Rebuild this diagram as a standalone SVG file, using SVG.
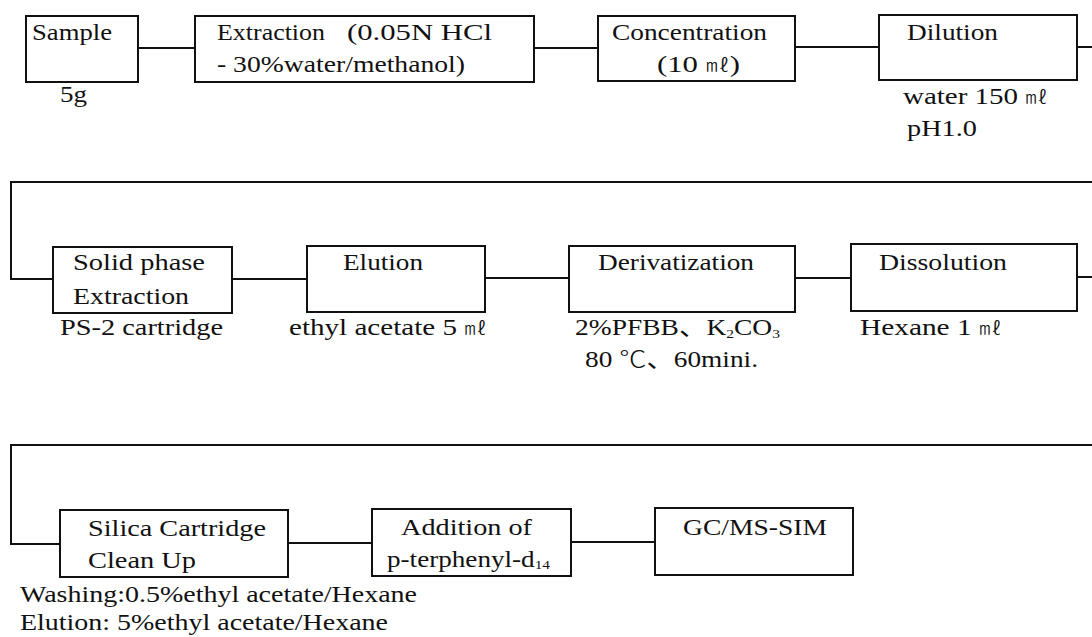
<svg xmlns="http://www.w3.org/2000/svg" width="1092" height="637" viewBox="0 0 1092 637">
<style>
.box{fill:#fff;stroke:#111;stroke-width:2}
.ln{fill:none;stroke:#111;stroke-width:2}
text{font-family:"Liberation Serif","Noto Sans CJK JP",serif;font-size:23px;fill:#111}
.sub{font-size:13px}
.ml{font-size:18px;font-weight:300}
.deg{font-weight:300}
</style>
<rect width="1092" height="637" fill="#fff"/>
<g id="connectors">
<line class="ln" x1="138" y1="48" x2="195" y2="48"/>
<line class="ln" x1="534" y1="48" x2="598" y2="48"/>
<line class="ln" x1="795" y1="47" x2="879" y2="47"/>
<line class="ln" x1="1077" y1="47" x2="1092" y2="47"/>
<path class="ln" d="M1092,182 H11 V279 H53"/>
<line class="ln" x1="232" y1="279" x2="307" y2="279"/>
<line class="ln" x1="485" y1="278" x2="569" y2="278"/>
<line class="ln" x1="795" y1="278" x2="851" y2="278"/>
<line class="ln" x1="1077" y1="277" x2="1092" y2="277"/>
<path class="ln" d="M1092,445 H11 V544 H60"/>
<line class="ln" x1="288" y1="543" x2="372" y2="543"/>
<line class="ln" x1="571" y1="542" x2="655" y2="542"/>
</g>
<g id="sample">
<rect class="box" x="26" y="16" width="112" height="66"/>
<text x="32" y="40" textLength="80" lengthAdjust="spacingAndGlyphs">Sample</text>
<text x="60" y="102" textLength="27" lengthAdjust="spacingAndGlyphs">5g</text>
</g>
<g id="extraction">
<rect class="box" x="195" y="16" width="339" height="66"/>
<text x="217" y="40" textLength="108" lengthAdjust="spacingAndGlyphs">Extraction</text>
<text x="347" y="40" textLength="145" lengthAdjust="spacingAndGlyphs">(0.05N HCl</text>
<text x="217" y="72" textLength="248" lengthAdjust="spacingAndGlyphs">- 30%water/methanol)</text>
</g>
<g id="concentration">
<rect class="box" x="598" y="16" width="197" height="65"/>
<text x="612" y="40" textLength="155" lengthAdjust="spacingAndGlyphs">Concentration</text>
<text x="657" y="72" textLength="83" lengthAdjust="spacingAndGlyphs">(10 <tspan class="ml">㎖</tspan>)</text>
</g>
<g id="dilution">
<rect class="box" x="879" y="15" width="198" height="65"/>
<text x="907" y="40" textLength="91" lengthAdjust="spacingAndGlyphs">Dilution</text>
<text x="903" y="104" textLength="145" lengthAdjust="spacingAndGlyphs">water 150 <tspan class="ml">㎖</tspan></text>
<text x="907" y="136" textLength="70" lengthAdjust="spacingAndGlyphs">pH1.0</text>
</g>
<g id="solid-phase">
<rect class="box" x="53" y="247" width="179" height="66"/>
<text x="73" y="270" textLength="132" lengthAdjust="spacingAndGlyphs">Solid phase</text>
<text x="73" y="304" textLength="116" lengthAdjust="spacingAndGlyphs">Extraction</text>
<text x="60" y="335" textLength="163" lengthAdjust="spacingAndGlyphs">PS-2 cartridge</text>
</g>
<g id="elution">
<rect class="box" x="307" y="246" width="178" height="66"/>
<text x="343" y="270" textLength="80" lengthAdjust="spacingAndGlyphs">Elution</text>
<text x="289" y="335" textLength="198" lengthAdjust="spacingAndGlyphs">ethyl acetate 5 <tspan class="ml">㎖</tspan></text>
</g>
<g id="derivatization">
<rect class="box" x="569" y="246" width="226" height="66"/>
<text x="598" y="270" textLength="156" lengthAdjust="spacingAndGlyphs">Derivatization</text>
<text x="575" y="335" textLength="205" lengthAdjust="spacingAndGlyphs">2%PFBB、K<tspan class="sub" dy="3">2</tspan><tspan dy="-3">CO</tspan><tspan class="sub" dy="3">3</tspan></text>
<text x="585" y="367" textLength="173" lengthAdjust="spacingAndGlyphs">80 <tspan class="deg">℃</tspan>、60mini.</text>
</g>
<g id="dissolution">
<rect class="box" x="851" y="244" width="226" height="67"/>
<text x="879" y="270" textLength="128" lengthAdjust="spacingAndGlyphs">Dissolution</text>
<text x="860" y="335" textLength="142" lengthAdjust="spacingAndGlyphs">Hexane 1 <tspan class="ml">㎖</tspan></text>
</g>
<g id="silica">
<rect class="box" x="60" y="510" width="228" height="67"/>
<text x="88" y="536" textLength="178" lengthAdjust="spacingAndGlyphs">Silica Cartridge</text>
<text x="88" y="568" textLength="108" lengthAdjust="spacingAndGlyphs">Clean Up</text>
<text x="20" y="602" textLength="397" lengthAdjust="spacingAndGlyphs">Washing:0.5%ethyl acetate/Hexane</text>
<text x="20" y="630" textLength="368" lengthAdjust="spacingAndGlyphs">Elution: 5%ethyl acetate/Hexane</text>
</g>
<g id="addition">
<rect class="box" x="372" y="509" width="199" height="67"/>
<text x="401" y="535" textLength="131" lengthAdjust="spacingAndGlyphs">Addition of</text>
<text x="387" y="567" textLength="163" lengthAdjust="spacingAndGlyphs">p-terphenyl-d<tspan class="sub" dy="2">14</tspan></text>
</g>
<g id="gcms">
<rect class="box" x="655" y="508" width="198" height="67"/>
<text x="683" y="535" textLength="144" lengthAdjust="spacingAndGlyphs">GC/MS-SIM</text>
</g>
</svg>
